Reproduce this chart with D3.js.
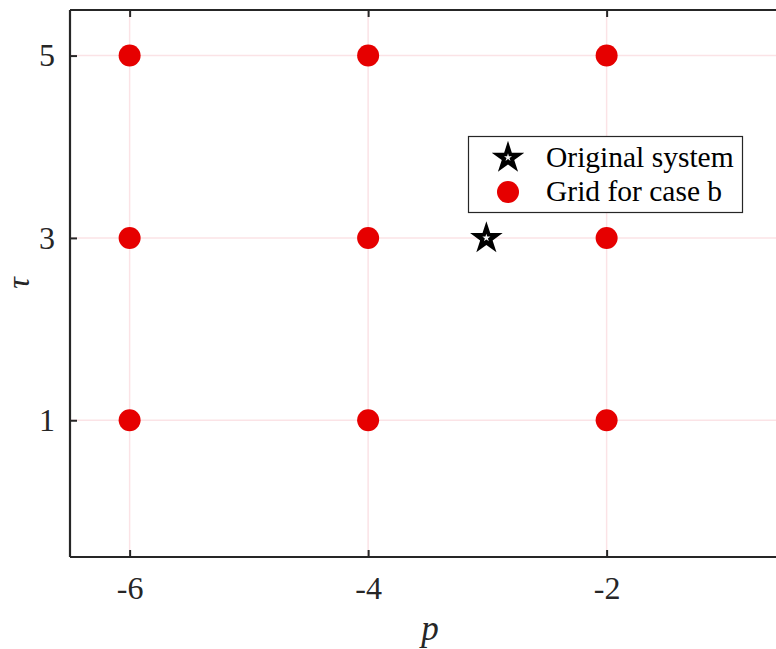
<!DOCTYPE html>
<html><head><meta charset="utf-8">
<script src="https://cdn.jsdelivr.net/npm/d3@7"></script>
<style>body{margin:0;background:#fff}svg{display:block}</style>
</head><body>
<svg id="chart" width="776" height="649"></svg>
<script>
const gridP = [-6, -4, -2, -6, -4, -2, -6, -4, -2];
const gridTau = [1, 1, 1, 3, 3, 3, 5, 5, 5];
const origP = [-3];
const origTau = [3];
const xTicks = [-6, -4, -2];
const yTicks = [1, 3, 5];
const legendLabels = ["Original system", "Grid for case b"];

const svg = d3.select("#chart");
const mLeft = 70, mTop = 10, mBottom = 557, mRight = 785.5;
const x = d3.scaleLinear().domain([-6.5, -0.5]).range([mLeft, mRight]);
const y = d3.scaleLinear().domain([-0.5, 5.5]).range([mBottom, mTop]);
const font = "'Liberation Serif','Times New Roman',serif";
const axisCol = "#262626";

const defs = svg.append("defs");
defs.append("clipPath").attr("id","clip").append("rect")
  .attr("x", mLeft).attr("y", mTop).attr("width", mRight-mLeft).attr("height", mBottom-mTop);

// grid
const g = svg.append("g").attr("clip-path","url(#clip)");
g.selectAll(".gx").data(xTicks).enter().append("line")
  .attr("x1", d=>x(d)).attr("x2", d=>x(d)).attr("y1", mTop).attr("y2", mBottom)
  .attr("stroke", "#fbe3e6").attr("stroke-width", 1.5);
g.selectAll(".gy").data(yTicks).enter().append("line")
  .attr("y1", d=>y(d)).attr("y2", d=>y(d)).attr("x1", mLeft).attr("x2", mRight)
  .attr("stroke", "#fbe3e6").attr("stroke-width", 1.5);

// axes
const xAxisB = d3.axisBottom(x).tickValues(xTicks).tickSize(-7).tickPadding(19).tickFormat(d3.format("d"));
const xAxisT = d3.axisTop(x).tickValues(xTicks).tickSize(-7).tickFormat("");
const yAxisL = d3.axisLeft(y).tickValues(yTicks).tickSize(-7).tickPadding(15).tickFormat(d3.format("d"));

function style(sel){
  sel.select(".domain").attr("stroke", axisCol).attr("stroke-width", 2.2);
  sel.selectAll(".tick line").attr("stroke", axisCol).attr("stroke-width", 2);
  sel.selectAll(".tick text").attr("fill", axisCol).style("font-family", font).style("font-size", "32px");
}
svg.append("g").attr("transform", `translate(0,${mBottom})`).call(xAxisB).call(style)
  .call(s=>s.select(".domain").attr("d", `M${mLeft},0H776`));
svg.append("g").attr("transform", `translate(0,${mTop})`).call(xAxisT).call(style)
  .call(s=>s.select(".domain").attr("d", `M${mLeft},0H776`));
svg.append("g").attr("transform", `translate(${mLeft},0)`).call(yAxisL).call(style)
  .call(s=>s.select(".domain").attr("d", `M0,${mTop}V${mBottom}`));
svg.selectAll(".tick text").text(function(){ return this.textContent.replace("−","-"); });

// axis labels
svg.append("text").attr("x", 430).attr("y", 640).attr("text-anchor","middle")
  .style("font-family", font).style("font-size","35px").style("font-style","italic")
  .attr("fill", axisCol).text("p");
svg.append("text").attr("transform","translate(29,283) rotate(-90)").attr("text-anchor","middle")
  .style("font-family", font).style("font-size","32px").style("font-style","italic")
  .attr("fill", axisCol).text("τ");

// points
const pts = gridP.map((p,i)=>({p, t: gridTau[i]}));
svg.append("g").selectAll("circle").data(pts).enter().append("circle")
  .attr("cx", d=>x(d.p)).attr("cy", d=>y(d.t)).attr("r", 11).attr("fill", "#e60000");

const starBig = d3.symbol().type(d3.symbolStar).size(330);
const starSmall = d3.symbol().type(d3.symbolStar).size(20);
const origPts = origP.map((p,i)=>({p, t: origTau[i]}));
const sg = svg.append("g");
sg.selectAll(".s1").data(origPts).enter().append("path")
  .attr("d", starBig).attr("transform", d=>`translate(${x(d.p)-1},${y(d.t)+0.5})`).attr("fill","#000");
sg.selectAll(".s2").data(origPts).enter().append("path")
  .attr("d", starSmall).attr("transform", d=>`translate(${x(d.p)-1},${y(d.t)})`).attr("fill","#f4f4f4");

// legend
const lg = svg.append("g");
lg.append("rect").attr("x", 468.5).attr("y", 136.5).attr("width", 274).attr("height", 76)
  .attr("fill","#fff").attr("stroke", axisCol).attr("stroke-width", 1.2);
lg.append("path").attr("d", starBig).attr("transform","translate(508,158)").attr("fill","#000");
lg.append("path").attr("d", starSmall).attr("transform","translate(508,157.5)").attr("fill","#f4f4f4");
lg.append("circle").attr("cx", 508).attr("cy", 192).attr("r", 11).attr("fill","#e60000");
lg.selectAll("text").data(legendLabels).enter().append("text")
  .attr("x", 546).attr("y", (d,i)=> 167 + i*34)
  .style("font-family", font).style("font-size","29.5px").attr("fill","#000").text(d=>d);
</script>
</body></html>
